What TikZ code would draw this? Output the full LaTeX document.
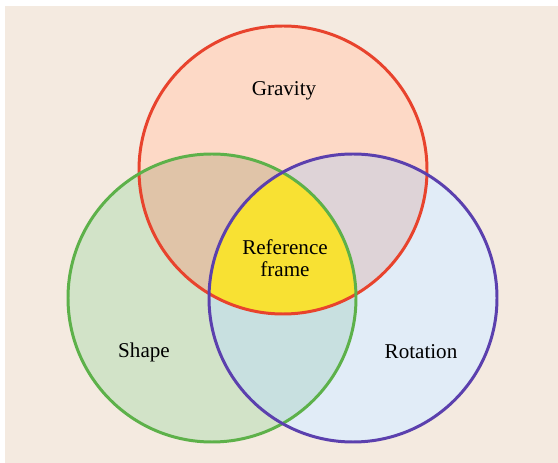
\documentclass[tikz,border=0pt]{standalone}
\usepackage{fontspec}
\setmainfont{Liberation Serif}
\newfontfamily\vennfont{Liberation Serif}
\usetikzlibrary{positioning}
\definecolor{bgbeige}{HTML}{F4EAE0}
\definecolor{gravline}{HTML}{E8432D}
\definecolor{gravfill}{HTML}{FDD9C6}
\definecolor{shapeline}{HTML}{5DB14A}
\definecolor{shapefill}{HTML}{D2E3C8}
\definecolor{rotline}{HTML}{5B40AE}
\definecolor{rotfill}{HTML}{E1ECF7}
\definecolor{gsfill}{HTML}{E0C4A8}
\definecolor{grfill}{HTML}{DED3D7}
\definecolor{srfill}{HTML}{C8E0E0}
\definecolor{allfill}{HTML}{F8E133}
\tikzset{
  ring/.style={line width=1.7pt},
  label/.style={
    align=center,
    inner sep=1pt,
    font=\vennfont\fontsize{12}{12.5}\selectfont
  }
}

\begin{document}
\begin{tikzpicture}[x=0.02cm, y=0.02cm]
  \useasboundingbox (0,0) rectangle (558,463);
  \fill[bgbeige] (5,0) rectangle (558,457);

  \coordinate (grav) at (283,293);
  \coordinate (shape) at (212,165);
  \coordinate (rot) at (353,165);

  % single sets
  \fill[gravfill] (grav) circle (144);
  \fill[shapefill] (shape) circle (144);
  \fill[rotfill] (rot) circle (144);

  % pairwise overlaps
  \begin{scope}
    \clip (grav) circle (144);
    \fill[gsfill] (shape) circle (144);
  \end{scope}
  \begin{scope}
    \clip (grav) circle (144);
    \fill[grfill] (rot) circle (144);
  \end{scope}
  \begin{scope}
    \clip (shape) circle (144);
    \fill[srfill] (rot) circle (144);
  \end{scope}
  \begin{scope}
    \clip (grav) circle (144);
    \clip (shape) circle (144);
    \fill[allfill] (rot) circle (144);
  \end{scope}

  % outlines
  \draw[ring, gravline] (grav) circle (144);
  \draw[ring, shapeline] (shape) circle (144);
  \draw[ring, rotline] (rot) circle (144);

  \node[label] (gravity) at (284,372) {Gravity};
  \node[label] (frame) at (285,205) {Reference\\frame};
  \node[label] (shapetext) at (144,111) {Shape};
  \node[label] (rotation) at (421,111) {Rotation};
\end{tikzpicture}
\end{document}
